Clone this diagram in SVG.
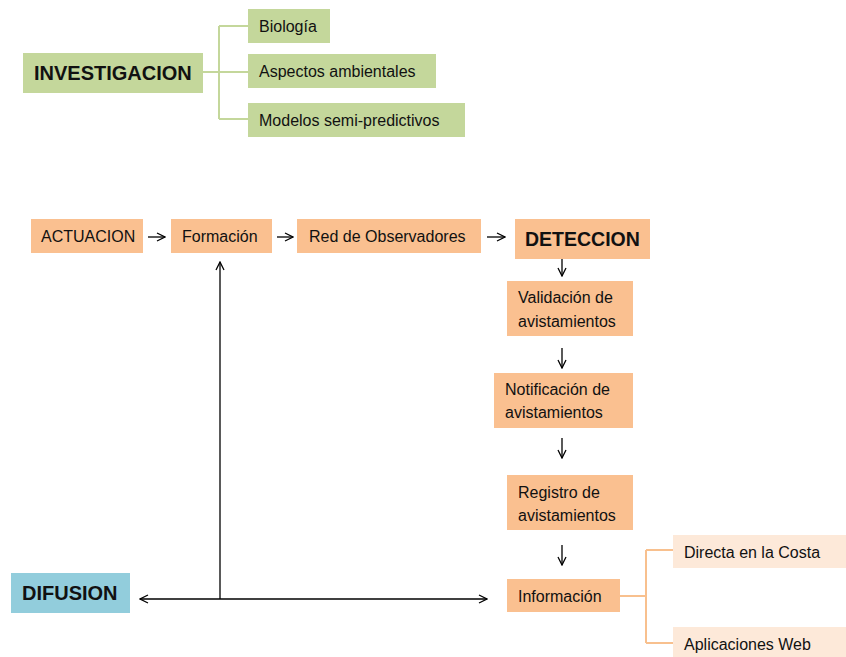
<svg xmlns="http://www.w3.org/2000/svg" width="846" height="657" viewBox="0 0 846 657">
<style>
text{font-family:"Liberation Sans",Arial,sans-serif;font-size:16px;fill:#111}
.b{font-weight:bold;font-size:20px}
.g{fill:#c4d79b}
.o{fill:#fac090}
.p{fill:#fde9d9}
.bl{fill:#92cddc}
.gl{stroke:#c4d79b;stroke-width:2;fill:none}
.ol{stroke:#f8c08e;stroke-width:2;fill:none}
.a{stroke:#000;stroke-width:1.3;fill:none}
</style>
<defs>
<marker id="ar" viewBox="0 0 10 10" refX="9" refY="5" markerWidth="10" markerHeight="10" markerUnits="userSpaceOnUse" orient="auto-start-reverse">
<path d="M1,1 L9,5 L1,9" fill="none" stroke="#000" stroke-width="1.3"/>
</marker>
</defs>
<g id="connectors">
<path class="gl" d="M203,72 H219 M219,26 V119 M219,26 H248 M219,72 H248 M219,119 H248"/>
<path class="ol" d="M620,596 H646 M646,550 V643 M646,550 H673 M646,643 H673"/>
<line class="a" x1="148" y1="237" x2="165" y2="237" marker-end="url(#ar)"/>
<line class="a" x1="277" y1="237" x2="293" y2="237" marker-end="url(#ar)"/>
<line class="a" x1="487" y1="237" x2="505" y2="237" marker-end="url(#ar)"/>
<line class="a" x1="562" y1="259" x2="562" y2="276" marker-end="url(#ar)"/>
<line class="a" x1="562" y1="348" x2="562" y2="368" marker-end="url(#ar)"/>
<line class="a" x1="562" y1="438" x2="562" y2="458" marker-end="url(#ar)"/>
<line class="a" x1="562" y1="545" x2="562" y2="565" marker-end="url(#ar)"/>
<line class="a" x1="140" y1="599" x2="487" y2="599" marker-start="url(#ar)" marker-end="url(#ar)"/>
<line class="a" x1="220" y1="599" x2="220" y2="262" marker-end="url(#ar)"/>
</g>
<g id="investigacion"><rect class="g" x="23" y="53" width="180" height="40"/><text class="b" x="34" y="80">INVESTIGACION</text></g>
<g id="biologia"><rect class="g" x="248" y="9" width="82" height="34"/><text x="259" y="32">Biología</text></g>
<g id="aspectos"><rect class="g" x="248" y="54" width="188" height="34"/><text x="259" y="77">Aspectos ambientales</text></g>
<g id="modelos"><rect class="g" x="248" y="103" width="217" height="34"/><text x="259" y="126">Modelos semi-predictivos</text></g>
<g id="actuacion"><rect class="o" x="31" y="219" width="112" height="34"/><text x="41" y="242">ACTUACION</text></g>
<g id="formacion"><rect class="o" x="171" y="219" width="101" height="34"/><text x="182" y="242">Formación</text></g>
<g id="red"><rect class="o" x="297" y="219" width="184" height="34"/><text x="309" y="242">Red de Observadores</text></g>
<g id="deteccion"><rect class="o" x="515" y="219" width="135" height="40"/><text class="b" x="525" y="246" style="font-size:19.5px">DETECCION</text></g>
<g id="validacion"><rect class="o" x="507" y="281" width="126" height="55"/><text x="518" y="303">Validación de</text><text x="518" y="327">avistamientos</text></g>
<g id="notificacion"><rect class="o" x="494" y="373" width="139" height="55"/><text x="505" y="395">Notificación de</text><text x="505" y="418">avistamientos</text></g>
<g id="registro"><rect class="o" x="507" y="475" width="126" height="55"/><text x="518" y="498">Registro de</text><text x="518" y="521">avistamientos</text></g>
<g id="informacion"><rect class="o" x="507" y="579" width="113" height="33"/><text x="518" y="602">Información</text></g>
<g id="directa"><rect class="p" x="673" y="535" width="173" height="33"/><text x="684" y="558">Directa en la Costa</text></g>
<g id="aplicaciones"><rect class="p" x="673" y="627" width="173" height="30"/><text x="684" y="650">Aplicaciones Web</text></g>
<g id="difusion"><rect class="bl" x="11" y="573" width="119" height="40"/><text class="b" x="22" y="600">DIFUSION</text></g>
</svg>
